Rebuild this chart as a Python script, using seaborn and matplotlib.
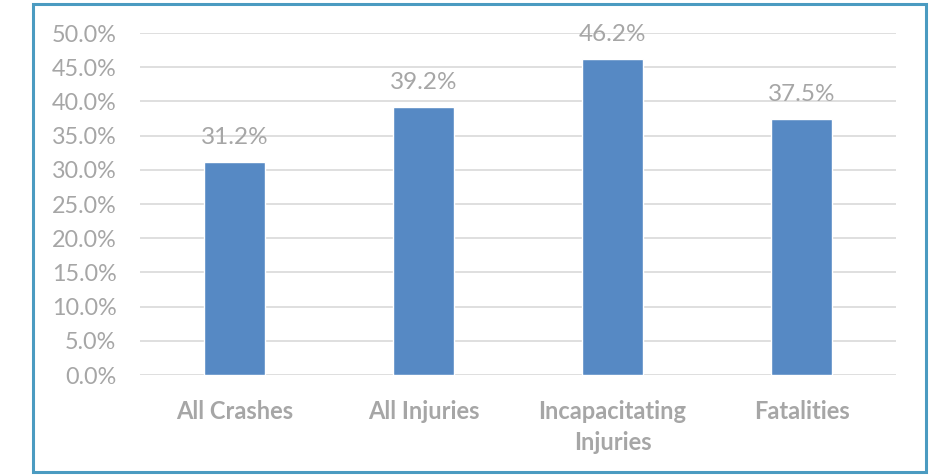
import matplotlib
matplotlib.use('Agg')
import matplotlib.pyplot as plt
import seaborn as sns
import pandas as pd
from matplotlib.patches import Rectangle
from matplotlib.ticker import FuncFormatter

# dados
categories = ['All Crashes', 'All Injuries', 'Incapacitating\nInjuries', 'Fatalities']
values = [31.2, 39.2, 46.2, 37.5]
y_ticks = [0, 5, 10, 15, 20, 25, 30, 35, 40, 45, 50]

df = pd.DataFrame({'category': categories, 'value': values})

sns.set_style('white')
plt.rcParams['font.family'] = ['Lato', 'DejaVu Sans']

fig = plt.figure(figsize=(9.32, 4.75), dpi=100)
ax = fig.add_axes([0.1502, 0.2105, 0.8112, 0.72])

sns.barplot(data=df, x='category', y='value', color='#5689c4',
            width=0.32, ax=ax, zorder=3, saturation=1)

ax.set_ylim(0, 50)
ax.set_xlim(-0.5, 3.5)
ax.set_yticks(y_ticks)
ax.yaxis.set_major_formatter(FuncFormatter(lambda v, p: f'{v:.1f}%'))
ax.grid(axis='y', color='#d9d9d9', linewidth=1.2, zorder=0)
ax.set_axisbelow(True)
for s in ax.spines.values():
    s.set_visible(False)
ax.set_xlabel('')
ax.set_ylabel('')
ax.tick_params(axis='y', length=0, pad=17, labelsize=16.8, labelcolor='#a6a6a6')
ax.tick_params(axis='x', length=0, pad=18, labelsize=17, labelcolor='#a6a6a6')
for lbl in ax.get_xticklabels():
    lbl.set_fontweight('bold')
    lbl.set_linespacing(1.4)

# rótulos dos valores
for i, v in enumerate(values):
    ax.annotate(f'{v:.1f}%', (i, v), xytext=(0, 10), textcoords='offset points',
                ha='center', va='bottom', fontsize=17.5, color='#a6a6a6')

# moldura
fig.patches.append(Rectangle((0.035, 0.006), 0.959, 0.985, transform=fig.transFigure,
                             fill=False, edgecolor='#4b9bc1', linewidth=2.2))

fig.savefig('out.png', dpi=100)
